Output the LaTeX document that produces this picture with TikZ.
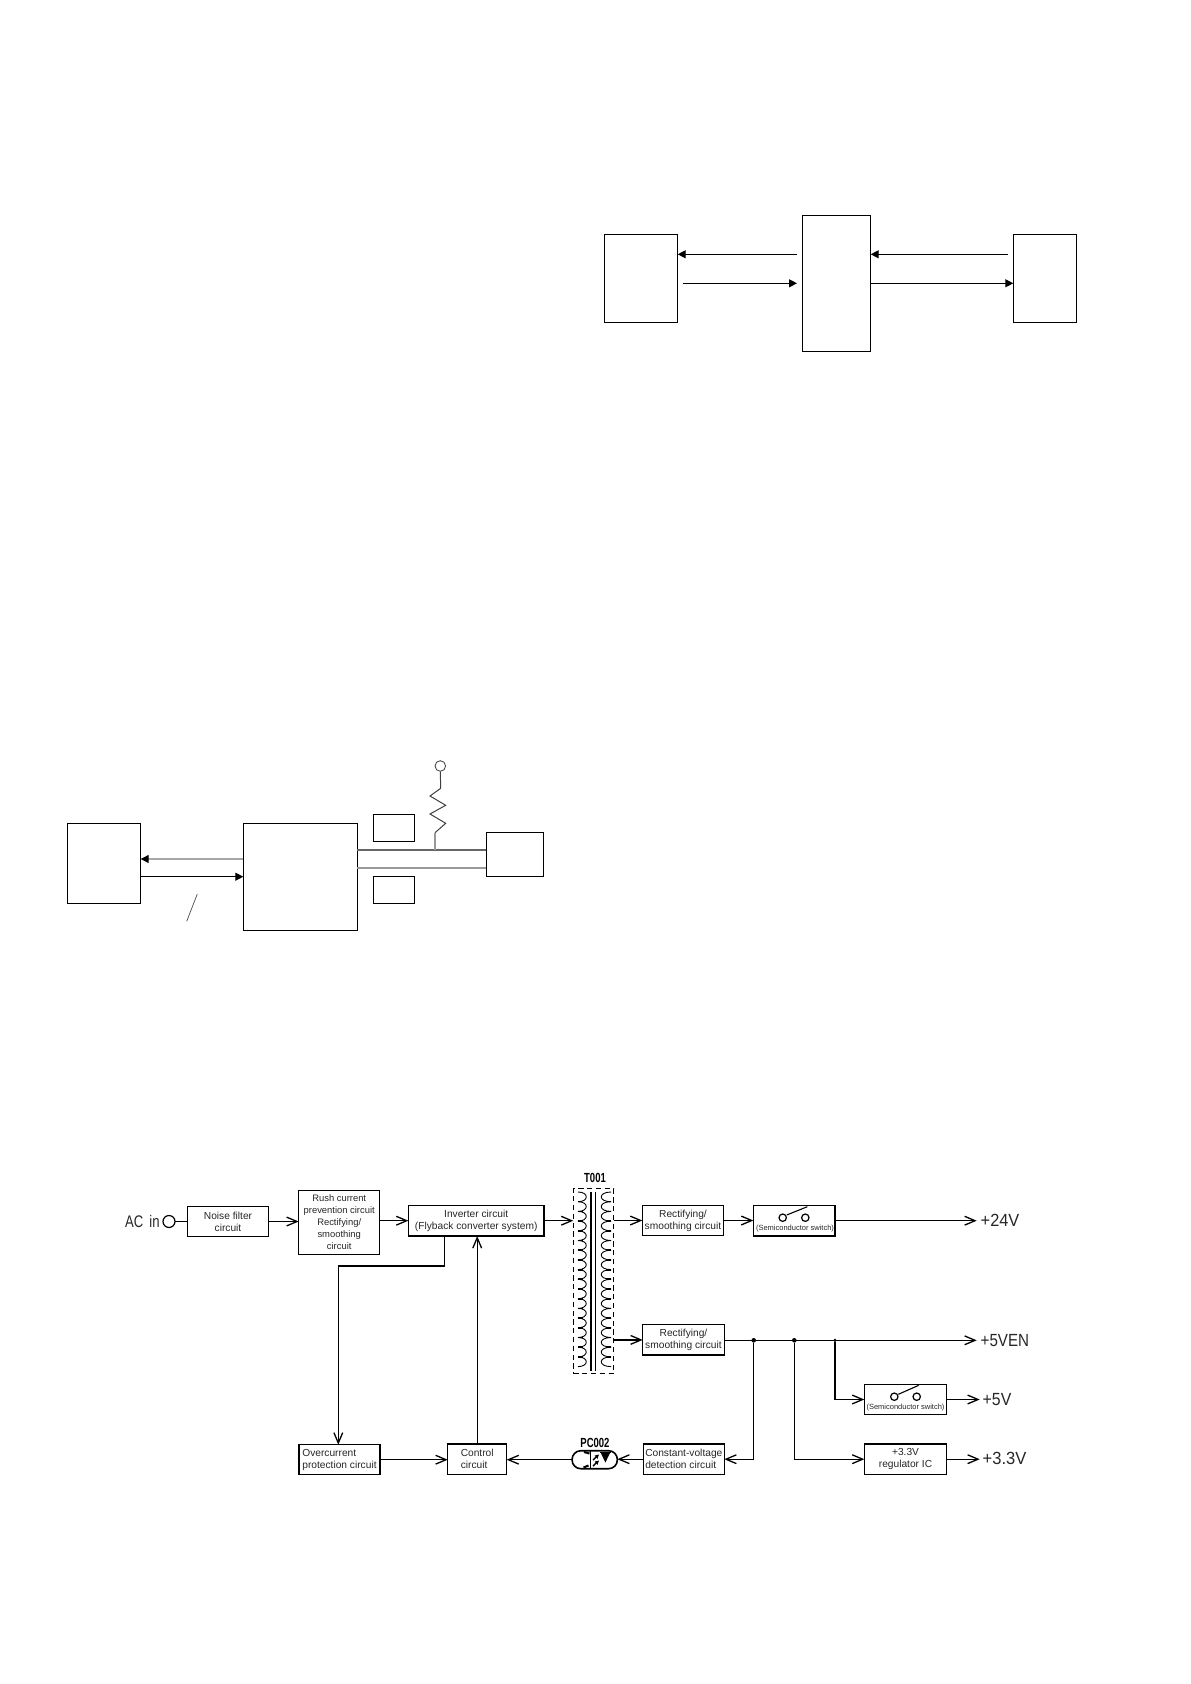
\documentclass[tikz,border=0pt]{standalone}
\usepackage{fontspec}
\usepackage{graphicx}
\setmainfont{Liberation Sans}
\usetikzlibrary{arrows.meta,calc}
\tikzset{
  wh/.style 2 args={minimum width=#1*0.5pt,minimum height=#2*0.5pt},
  box/.style={draw,line width=0.6pt,inner sep=0pt,outer sep=0pt,align=center,font=\fontsize{5.1}{6}\selectfont,text=black!85},
  plainbox/.style={draw,line width=0.55pt,inner sep=0pt,outer sep=0pt},
  wire/.style={line width=0.65pt},
  arr/.style={wire,-{Straight Barb[length=5.2pt,width=4.4pt,line width=0.65pt]}},
  solidarr/.style={line width=0.6pt,-{Triangle[length=4pt,width=4pt]}},
  outlabel/.style={inner sep=0pt,outer sep=0pt,anchor=west,font=\fontsize{8.8}{10}\selectfont,text=black!85},
  tinytext/.style={inner sep=0pt,font=\fontsize{3.75}{4.5}\selectfont,text=black!85},
  partlabel/.style={inner sep=0pt,font=\bfseries\fontsize{6.6}{8}\selectfont},
  coil/.style={line width=0.45pt},
  stub/.style={line width=0.9pt},
  dot/.style={circle,fill=black,inner sep=0pt,outer sep=0pt,minimum size=#1*0.5pt},
  swline/.style={line width=0.55pt},
  swcontact/.style={circle,draw,line width=0.6pt,inner sep=0pt,minimum size=7.4*0.5pt},
}
\begin{document}
\begin{tikzpicture}[x=0.5pt,y=-0.5pt]
\useasboundingbox (0,0) rectangle (1190,1684);

% --- top diagram ---
\node[plainbox,wh={73.4}{88}] (topleft) at (641,278.3) {};
\node[plainbox,wh={68.4}{136}] (topmid) at (836.5,283.3) {};
\node[plainbox,wh={63.4}{88}] (topright) at (1045,278.3) {};
\coordinate (ta) at (797,254.3);
\coordinate (tb) at (683,283.3);
\coordinate (tc) at (797,283.3);
\coordinate (td) at (1007.7,254.3);
\draw[solidarr] (ta) -- (ta -| topleft.east);
\draw[solidarr] (tb) -- (tc);
\draw[solidarr] (td) -- (td -| topmid.east);
\draw[solidarr] (tc -| topmid.east) -- (tc -| topright.west);

% --- middle diagram ---
\node[plainbox,wh={73.4}{80}] (midleft) at (104,863.3) {};
\node[plainbox,wh={114}{107}] (midmain) at (300.3,876.8) {};
\node[plainbox,wh={41.4}{27}] (midtop) at (394,827.8) {};
\node[plainbox,wh={41.4}{27}] (midbot) at (394,889.8) {};
\node[plainbox,wh={57}{44}] (midright) at (514.8,854.3) {};
\coordinate (m1) at (243.3,859);
\coordinate (m2) at (243.3,876.7);
\coordinate (bus1) at (357.3,850);
\coordinate (bus2) at (357.3,868);
\draw[line width=0.6pt,black!35,-{Triangle[length=4pt,width=4pt,color=black]}] (m1) -- (m1 -| midleft.east);
\draw[solidarr] (m2 -| midleft.east) -- (m2);
\draw[line width=0.55pt,black!60] (bus1) -- (bus1 -| midright.west);
\draw[line width=0.8pt,black!40] (bus2) -- (bus2 -| midright.west);
\node[circle,draw,black!70,line width=0.45pt,inner sep=0pt,minimum size=10.6*0.5pt] (pullup) at (440.3,766) {};
\coordinate (rtap) at (435,850);
\draw[line width=0.8pt,black!40] (rtap) -- (435,832.7);
\draw[line width=0.5pt,black!75,line join=miter] (435,832.7) -- (445.7,823.3) -- (430,814) -- (445.7,805.3) -- (430,796) -- (440.7,788.3) -- (pullup.south);
\draw[line width=0.35pt,black!70] (186.7,921.3) -- (197.3,894);

% --- power supply block diagram ---
\node[circle,draw,line width=0.6pt,inner sep=0pt,outer sep=0pt,minimum size=12*0.5pt] (acin) at (169,1221.5) {};
\node[inner sep=0pt,anchor=east,font=\fontsize{8.4}{10}\selectfont,text=black!85] (aclabel) at (160,1221.5) {\scalebox{0.78}[1]{AC\hspace{1.5pt} in}};
\node[box,wh={81.4}{30.4}] (noise) at (228,1221.5) {Noise filter\\circuit};
\node[box,wh={81}{64},font=\fontsize{4.7}{6}\selectfont] (rush) at (339.2,1222.3) {Rush current\\prevention circuit\\Rectifying/\\smoothing\\circuit};
\node[box,wh={135.7}{30.7}] (inverter) at (476.2,1220.7) {Inverter circuit\\(Flyback converter system)};
\node[box,wh={81}{30},align=left] (overcurrent) at (339.5,1459.7) {Overcurrent\\protection circuit};
\node[box,wh={59}{30.3},align=left] (control) at (477.2,1459.2) {Control\\circuit};
\node[box,wh={81.4}{30.4}] (rect1) at (683,1220.5) {Rectifying/\\smoothing circuit};
\node[box,wh={81.6}{30.3}] (rect2) at (683.5,1339.9) {Rectifying/\\smoothing circuit};
\node[box,wh={81}{30.3},align=left] (const) at (683.8,1459.2) {Constant-voltage\\detection circuit};
\node[box,wh={81.7}{30.7}] (sw1) at (794.2,1220.7) {};
\node[box,wh={82.4}{30.4}] (sw2) at (905.5,1399.5) {};
\node[box,wh={82.4}{30.3}] (reg) at (905.5,1459.2) {+3.3V\\regulator IC};

% semiconductor switches
\node[tinytext] (sw1text) at (795,1228.5) {(Semiconductor switch)};
\node[tinytext] (sw2text) at (905.5,1408) {(Semiconductor switch)};
\node[swcontact] (c1a) at (782.7,1217.7) {};
\node[swcontact] (c1b) at (805.3,1217.7) {};
\node[swcontact] (c2a) at (894.3,1396.7) {};
\node[swcontact] (c2b) at (916.7,1396.7) {};
\draw[swline] (786.7,1215) -- (807.3,1206.7);
\draw[swline] (898.3,1394.3) -- (918.7,1385.3);

% transformer
\node[draw,dashed,dash pattern=on 2.6pt off 1.8pt,line width=0.6pt,inner sep=0pt,outer sep=0pt,wh={40.4}{184.6}] (t001) at (593.5,1281) {};
\node[partlabel] (t001label) at (595,1178) {\scalebox{0.72}[1]{T001}};
\foreach \yy in {1192,1201.7,...,1358} {
  \draw[coil] (578,\yy) .. controls (589,\yy) and (589,\yy+9.7) .. (578,\yy+9.7);
  \draw[coil] (611,\yy) .. controls (598,\yy) and (598,\yy+9.7) .. (611,\yy+9.7);
}
\foreach \yy in {1211.4,1221.1,...,1358} {
  \draw[stub] (578,\yy) -- (583,\yy);
  \draw[stub] (611,\yy) -- (606,\yy);
}
\draw[line width=0.6pt] (591,1192) -- (591,1370.7);
\draw[line width=0.6pt] (595.7,1192) -- (595.7,1370.7);

% optocoupler
\node[draw,line width=0.8pt,rounded corners=4.4pt,inner sep=0pt,outer sep=0pt,wh={45.3}{18}] (pc002) at (594.7,1459.7) {};
\node[partlabel] (pc002label) at (595,1442.7) {\scalebox{0.72}[1]{PC002}};
\draw[line width=0.7pt] (590.7,1450.7) -- (590.7,1468.7);
\fill (600.8,1453) -- (610,1453) -- (605.4,1462.5) -- cycle;
\draw[line width=0.7pt] (600,1452.5) -- (611,1452.5);
\draw[line width=0.7pt,-{Triangle[length=2pt,width=2pt]}] (593,1460) -- (599,1454.5);
\draw[line width=0.7pt,-{Triangle[length=2pt,width=2pt]}] (593,1466) -- (599,1460.5);
\draw[line width=1pt] (584,1452) -- (589.5,1453.5);
\draw[line width=1pt] (583.5,1467.5) -- (588.5,1465.5);

% output labels
\node[outlabel] (v24) at (980.7,1220.7) {\scalebox{0.93}[1]{+24V}};
\node[outlabel] (v5en) at (980.7,1340.3) {\scalebox{0.86}[1]{+5VEN}};
\node[outlabel] (v5) at (982.7,1399.5) {\scalebox{0.9}[1]{+5V}};
\node[outlabel] (v33) at (982.7,1458.9) {\scalebox{0.94}[1]{+3.3V}};

% junctions
\node[dot=4.6] (j1) at (753.7,1340.3) {};
\node[dot=4.6] (j2) at (794.3,1340.3) {};
\node[dot=3.6] (j3) at (835,1340.3) {};
\coordinate (invtap) at (444.7,1236);
\coordinate (bendright) at (444.7,1266);
\coordinate (bendleft) at (338.3,1266);

% connectors
\draw[wire] (acin.east) -- (noise.west);
\draw[arr] (noise.east) -- (noise.east -| rush.west);
\draw[arr] (inverter.west -| rush.east) -- (inverter.west);
\draw[arr] (inverter.east) -- (inverter.east -| t001.west);
\draw[arr] (rect1.west -| t001.east) -- (rect1.west);
\draw[arr] (rect1.east) -- (rect1.east -| sw1.west);
\draw[arr,shorten >=2pt] (sw1.east) -- (sw1.east -| v24.west);
\draw[arr] (rect2.west -| t001.east) -- (rect2.west);
\draw[arr,shorten >=2pt] (j1 -| rect2.east) -- (j1 -| v5en.west);
\draw[arr] (j1) |- (const.east);
\draw[arr] (j2) |- (reg.west);
\draw[arr] (j3) |- (sw2.west);
\draw[arr,shorten >=1.5pt] (sw2.east) -- (sw2.east -| v5.west);
\draw[arr,shorten >=1.5pt] (reg.east) -- (reg.east -| v33.west);
\draw[arr] (const.west) -- (const.west -| pc002.east);
\draw[arr] (pc002.west) -- (pc002.west -| control.east);
\draw[arr] (overcurrent.east) -- (overcurrent.east -| control.west);
\draw[arr] (control.north) -- (control.north |- inverter.south);
\draw[arr] (invtap) -- (bendright) -- (bendleft) -- (bendleft |- overcurrent.north);
\end{tikzpicture}
\end{document}
